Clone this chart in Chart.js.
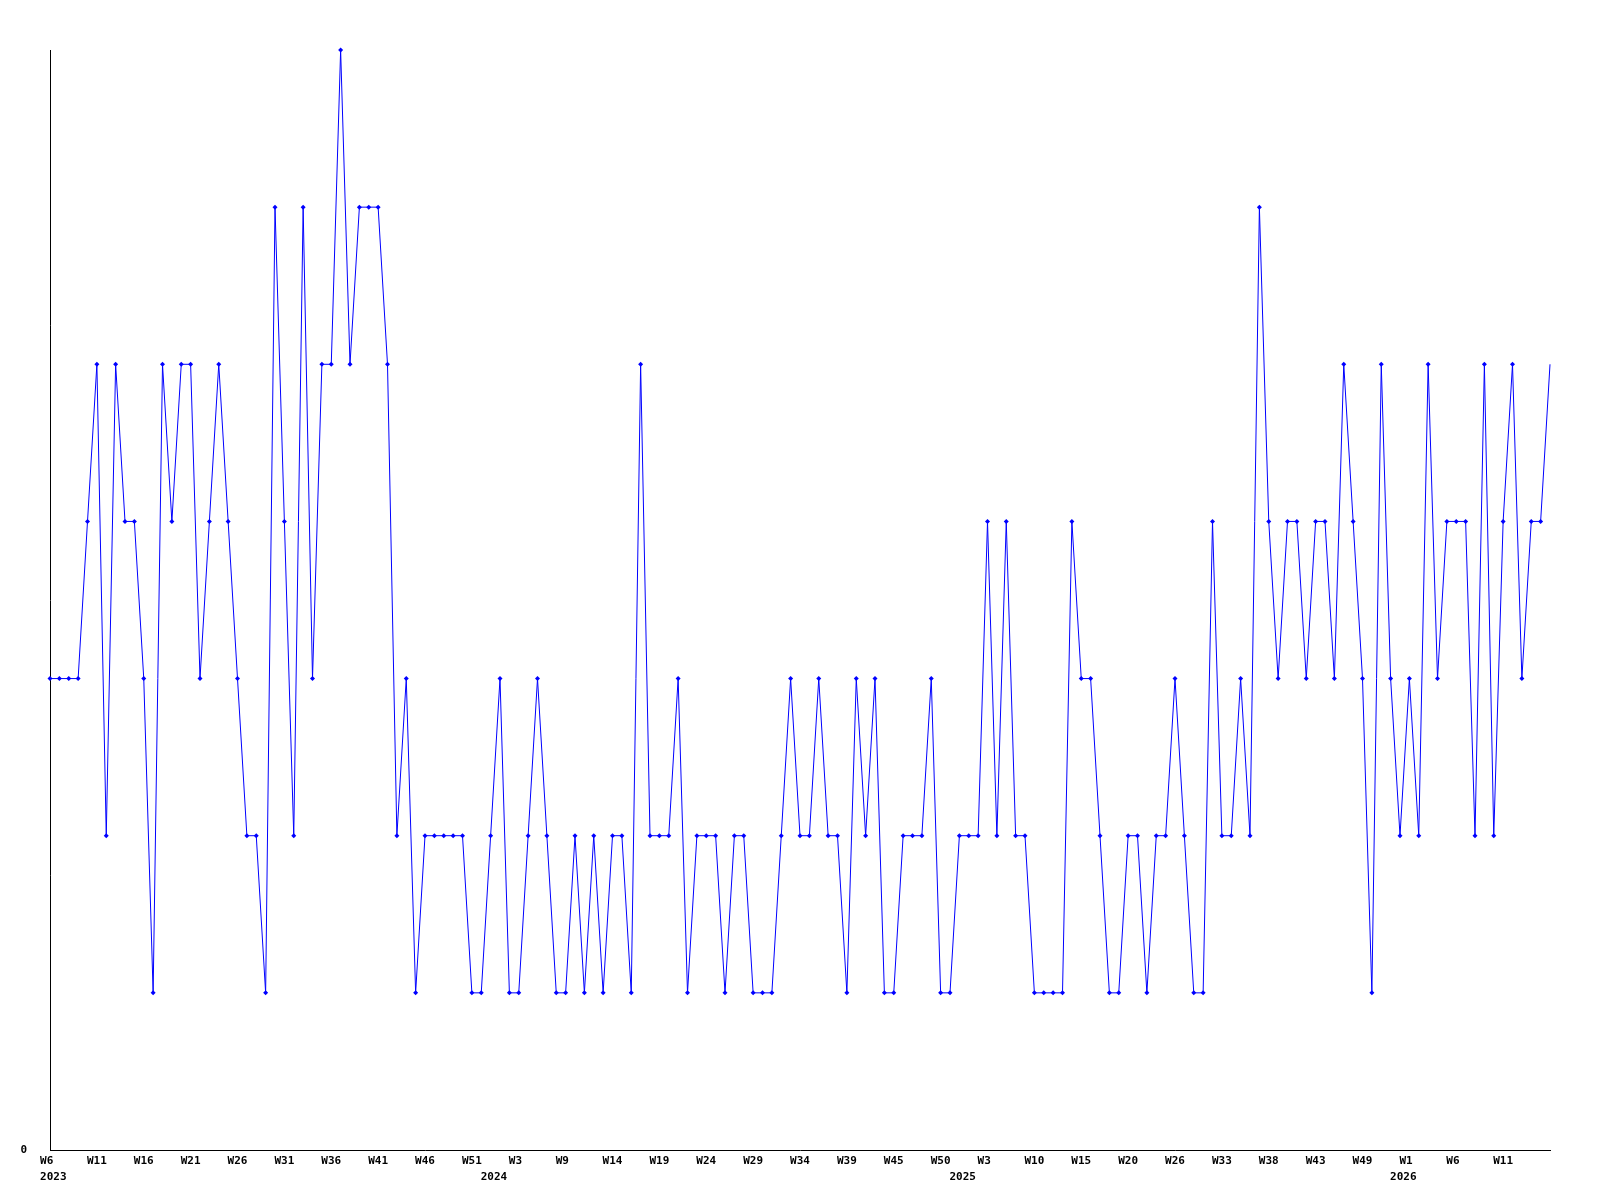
<!DOCTYPE html>
<html>
<head>
<meta charset="utf-8">
<script src="https://cdn.jsdelivr.net/npm/chart.js@4/dist/chart.umd.min.js"></script>
<style>
  html, body { margin: 0; padding: 0; background: #fff; }
  canvas { display: block; }
</style>
</head>
<body>
<canvas id="chart" width="1600" height="1200"></canvas>
<script>
// one value per sample, 2023 W6 .. 2026
const values = [
  3, 3, 3, 3, 4, 5, 2, 5, 4, 4, 3, 1, 5, 4, 5, 5, 3, 4, 5, 4, 3, 2, 2, 1, 6, 4, 2, 6, 3, 5, 5, 7, 5,
  6, 6, 6, 5, 2, 3, 1, 2, 2, 2, 2, 2, 1, 1, 2, 3, 1, 1, 2, 3, 2, 1, 1, 2, 1, 2, 1, 2, 2, 1, 5, 2,
  2, 2, 3, 1, 2, 2, 2, 1, 2, 2, 1, 1, 1, 2, 3, 2, 2, 3, 2, 2, 1, 3, 2, 3, 1, 1, 2, 2, 2, 3, 1, 1,
  2, 2, 2, 4, 2, 4, 2, 2, 1, 1, 1, 1, 4, 3, 3, 2, 1, 1, 2, 2, 1, 2, 2, 3, 2, 1, 1, 4, 2, 2, 3, 2,
  6, 4, 3, 4, 4, 3, 4, 4, 3, 5, 4, 3, 1, 5, 3, 2, 3, 2, 5, 3, 4, 4, 4, 2, 5, 2, 4, 5, 3, 4, 4, 5
];

// a week label on every 5th sample
const tickEvery = 5;
const weekTicks = [
  "W6", "W11", "W16", "W21", "W26", "W31", "W36", "W41", "W46", "W51",
  "W3", "W9", "W14", "W19", "W24", "W29", "W34", "W39", "W45", "W50",
  "W3", "W10", "W15", "W20", "W26", "W33", "W38", "W43", "W49", "W1",
  "W6", "W11"
];

// year labels and the sample they sit under
const years = ["2023", "2024", "2025", "2026"];
const yearAt = [0, 47, 97, 144];

const yMax = 7;

// labels start a little left of their tick, like a 3 char box
function anchorLeft(s) {
  const n = s.length;
  const before = Math.max(0, n - 3);
  const after = before + 3 - n;
  return " ".repeat(before) + s + " ".repeat(after);
}

const labelFont = { family: "DejaVu Sans Mono", size: 11, weight: "bold" };

const ctx = document.getElementById("chart").getContext("2d");
const chart = new Chart(ctx, {
  type: "line",
  data: {
    labels: values.map((v, i) => i),
    datasets: [
      {
        data: values,
        borderColor: "#0000ff",
        borderWidth: 1,
        tension: 0,
        pointStyle: "rectRot",
        pointRadius: (c) => (c.dataIndex === values.length - 1 ? 0 : 2.5),
        pointBackgroundColor: "#0000ff",
        pointBorderColor: "#0000ff",
        pointBorderWidth: 0,
        clip: false,
      },
    ],
  },
  options: {
    responsive: false,
    animation: false,
    devicePixelRatio: 1,
    layout: { padding: { top: 50, right: 50, left: 0, bottom: 0 } },
    plugins: { legend: { display: false }, tooltip: { enabled: false } },
    scales: {
      x: {
        type: "category",
        position: "bottom",
        weight: 0,
        grid: { display: false, drawTicks: false },
        border: { display: true, color: "#000", width: 1 },
        ticks: {
          autoSkip: false,
          maxRotation: 0,
          minRotation: 0,
          padding: 5,
          color: "#000",
          font: labelFont,
          callback: (v, i) => {
            if (i % tickEvery !== 0) return null;
            const t = weekTicks[i / tickEvery];
            return t ? anchorLeft(t) : null;
          },
        },
        afterFit: (s) => { s.height = 17; },
      },
      x2: {
        type: "category",
        position: "bottom",
        weight: 1,
        grid: { display: false, drawTicks: false },
        border: { display: false },
        ticks: {
          autoSkip: false,
          maxRotation: 0,
          minRotation: 0,
          padding: 4,
          color: "#000",
          font: labelFont,
          callback: (v, i) => {
            const k = yearAt.indexOf(i);
            return k >= 0 ? anchorLeft(years[k]) : null;
          },
        },
        afterFit: (s) => { s.height = 33; },
      },
      y: {
        min: 0,
        max: yMax,
        grid: { display: false, drawTicks: false },
        border: { display: true, color: "#000", width: 1 },
        ticks: {
          stepSize: 1,
          padding: 23,
          color: "#000",
          font: labelFont,
          callback: (v) => (v === 0 ? "0" : null),
        },
        afterFit: (s) => { s.width = 50; },
      },
    },
  },
});
</script>
</body>
</html>
